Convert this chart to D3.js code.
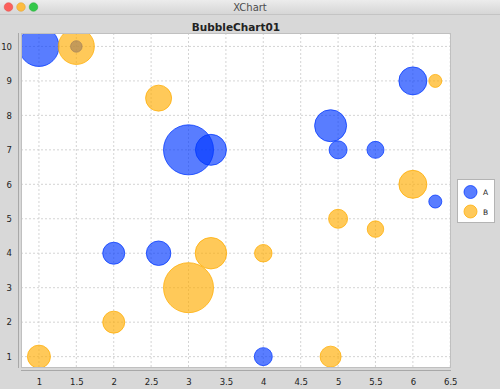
<!DOCTYPE html>
<html>
<head>
<meta charset="utf-8">
<script src="https://cdn.jsdelivr.net/npm/d3@7"></script>
<style>
  body { margin: 0; background: #d8d8d8; }
  svg { display: block; font-family: "DejaVu Sans", sans-serif; }
</style>
</head>
<body>
<script>
// series A
let xA = [1.5, 2.6, 3.3, 4.9, 5.5, 6.3, 1, 2, 3, 4, 5, 6],
    yA = [10, 4, 7, 7.7, 7, 5.5, 10, 4, 7, 1, 7, 9],
    sizeA = [11.5, 24.5, 31, 32, 17, 13, 40, 22, 50, 18, 18, 28];
// series B
let xB = [1, 1.5, 2.6, 3.3, 4.9, 5.5, 6.3, 2, 3, 4, 5, 6],
    yB = [1, 10, 8.5, 4, 1, 4.7, 9, 2, 3, 4, 5, 6],
    sizeB = [23, 36, 26, 31.5, 21, 16.5, 13, 22, 50, 17.5, 19, 28];

let xTicks = [1, 1.5, 2, 2.5, 3, 3.5, 4, 4.5, 5, 5.5, 6, 6.5],
    yTicks = [1, 2, 3, 4, 5, 6, 7, 8, 9, 10];
let seriesNames = ["A", "B"],
    colors = ["rgb(0,55,255)", "rgb(255,172,0)"];

let w = 500, h = 389;
let plot = {left: 21, top: 33, right: 451, bottom: 368};

let svg = d3.select("body").append("svg").attr("width", w).attr("height", h);

// window title bar
let grad = svg.append("defs").append("linearGradient").attr("id", "tb")
  .attr("x1", 0).attr("y1", 0).attr("x2", 0).attr("y2", 1);
grad.append("stop").attr("offset", "0%").attr("stop-color", "#ececec");
grad.append("stop").attr("offset", "100%").attr("stop-color", "#d6d6d6");
svg.append("rect").attr("width", w).attr("height", 14).attr("fill", "url(#tb)");
svg.append("line").attr("x1", 0).attr("x2", w).attr("y1", 14.5).attr("y2", 14.5).attr("stroke", "#c4c4c4");
let lights = [["#fc605c", "#de4a45"], ["#fdbc40", "#dd9f2e"], ["#34c84a", "#27a93a"]];
svg.selectAll(".light").data(lights).enter().append("circle")
  .attr("cx", (d, i) => 8.5 + i * 12.5).attr("cy", 7).attr("r", 4.3)
  .attr("fill", d => d[0]).attr("stroke", d => d[1]).attr("stroke-width", 0.5);
svg.append("text").attr("x", 250).attr("y", 10.5).attr("text-anchor", "middle")
  .attr("font-size", 10).attr("fill", "#4d4d4d").text("XChart");

// chart title
svg.append("text").attr("x", 236).attr("y", 30.5).attr("text-anchor", "middle")
  .attr("font-size", 10.5).attr("font-weight", "bold").attr("fill", "#222").text("BubbleChart01");

let x = d3.scaleLinear().domain([0.76, 6.51]).range([plot.left, plot.right]);
let y = d3.scaleLinear().domain([0.67, 10.39]).range([plot.bottom, plot.top]);
let r = d3.scaleLinear().domain([0, 100]).range([0, 50]);

svg.append("rect").attr("x", plot.left).attr("y", plot.top)
  .attr("width", plot.right - plot.left).attr("height", plot.bottom - plot.top)
  .attr("fill", "white");

// grid
svg.append("g").selectAll("line").data(xTicks).enter().append("line")
  .attr("x1", d => x(d)).attr("x2", d => x(d)).attr("y1", plot.top).attr("y2", plot.bottom)
  .attr("stroke", "#cfcfcf").attr("stroke-width", 0.9).attr("stroke-dasharray", "2,2");
svg.append("g").selectAll("line").data(yTicks).enter().append("line")
  .attr("y1", d => y(d)).attr("y2", d => y(d)).attr("x1", plot.left).attr("x2", plot.right)
  .attr("stroke", "#cfcfcf").attr("stroke-width", 0.9).attr("stroke-dasharray", "2,2");

// bubbles
let clip = svg.append("clipPath").attr("id", "pc").append("rect")
  .attr("x", plot.left).attr("y", plot.top)
  .attr("width", plot.right - plot.left).attr("height", plot.bottom - plot.top);
let bubbles = svg.append("g").attr("clip-path", "url(#pc)");
let series = [
  xA.map((v, i) => ({x: v, y: yA[i], s: sizeA[i]})),
  xB.map((v, i) => ({x: v, y: yB[i], s: sizeB[i]}))
];
series.forEach(function(data, k) {
  bubbles.selectAll(".s" + k).data(data).enter().append("circle")
    .attr("class", "s" + k)
    .attr("cx", d => x(d.x)).attr("cy", d => y(d.y)).attr("r", d => r(d.s))
    .attr("fill", colors[k]).attr("fill-opacity", 0.65)
    .attr("stroke", colors[k]).attr("stroke-opacity", 0.75).attr("stroke-width", 1);
});

// plot border & axis lines
svg.append("rect").attr("x", plot.left + 0.5).attr("y", plot.top + 0.5)
  .attr("width", plot.right - plot.left - 1).attr("height", plot.bottom - plot.top - 1)
  .attr("fill", "none").attr("stroke", "#c0c0c0");
svg.append("line").attr("x1", plot.left - 2.5).attr("x2", plot.left - 2.5)
  .attr("y1", plot.top).attr("y2", plot.bottom).attr("stroke", "#a8a8a8");
svg.append("line").attr("y1", plot.bottom + 2.5).attr("y2", plot.bottom + 2.5)
  .attr("x1", plot.left).attr("x2", plot.right).attr("stroke", "#a8a8a8");

// axes labels
let xAxis = d3.axisBottom(x).tickValues(xTicks).tickSize(0).tickPadding(8)
  .tickFormat(d3.format("~g"));
let gx = svg.append("g").attr("transform", `translate(0,${plot.bottom + 3})`).call(xAxis);
let yAxis = d3.axisLeft(y).tickValues(yTicks).tickSize(0).tickPadding(6);
let gy = svg.append("g").attr("transform", `translate(${plot.left - 3},0)`).call(yAxis);
[gx, gy].forEach(g => {
  g.select(".domain").remove();
  g.selectAll("text").attr("font-size", 8.5).attr("fill", "#222")
    .attr("font-family", "DejaVu Sans, sans-serif");
});

// legend
let lg = svg.append("g");
lg.append("rect").attr("x", 457.5).attr("y", 179.5).attr("width", 37).attr("height", 43)
  .attr("fill", "white").attr("stroke", "#b4b4b4");
seriesNames.forEach(function(name, k) {
  lg.append("circle").attr("cx", 470.5).attr("cy", 192 + k * 19.5).attr("r", 6.5)
    .attr("fill", colors[k]).attr("fill-opacity", 0.65)
    .attr("stroke", colors[k]).attr("stroke-opacity", 0.75);
  lg.append("text").attr("x", 483).attr("y", 195 + k * 19.5)
    .attr("font-size", 7.5).attr("fill", "#222").text(name);
});
</script>
</body>
</html>
